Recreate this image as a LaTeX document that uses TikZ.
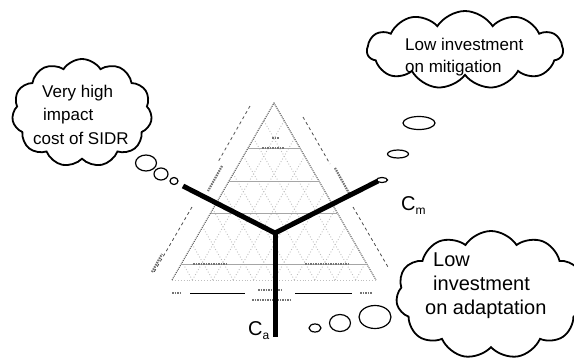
\documentclass[tikz,border=0pt]{standalone}
\usepackage{fontspec}
\setmainfont{Liberation Sans}
\usetikzlibrary{shapes.symbols,shapes.geometric,arrows.meta,positioning}

\begin{document}
\begin{tikzpicture}[x=1pt, y=-1pt,
      thought/.style={cloud, cloud puffs=11, cloud puff arc=115, draw,
                      line width=1.8pt, inner sep=0pt},
      bubble/.style={ellipse, draw, line width=1.2pt, inner sep=0pt},
      txt/.style={font=\fontsize{17}{23.5}\selectfont, align=left,
                  inner sep=0pt, anchor=north west},
      txtB/.style={font=\fontsize{20}{24}\selectfont, align=left,
                   inner sep=0pt, anchor=north west},
      lbl/.style={font=\fontsize{20}{20}\selectfont, inner sep=0pt, anchor=base west},
      arm/.style={line width=5pt, black},
      gridline/.style={gray!50, dotted, line width=0.9pt},
      level/.style={gray!70, line width=1pt},
      axisline/.style={black!70, dashed, line width=0.8pt},
      smudge/.style={black!55, line width=2.2pt, dash pattern=on 1.5pt off 1pt},
    ]
    \useasboundingbox (0,0) rectangle (574,362);

    % ternary chart in the background
    \coordinate (apex) at (274,103);
    \coordinate (baseL) at (172,280);
    \coordinate (baseR) at (376,280);
    \begin{scope}
      \clip (apex) -- (baseL) -- (baseR) -- cycle;
      \foreach \i in {1,...,9} {
        \draw[gridline] ({172+20.4*\i},280) -- ++(102,-177);
        \draw[gridline] ({172+20.4*\i},280) -- ++(-102,-177);
      }
    \end{scope}
    \draw[black!70, densely dotted, line width=1pt] (baseL) -- (apex) -- (baseR);
    \draw[gridline] (baseL) -- (baseR);
    \foreach \y in {148,181,213,264}
      \draw[level] ({274-(\y-103)/1.735},\y) -- ({274+(\y-103)/1.735},\y);

    \draw[axisline] (250,106) -- (218,162);
    \draw[axisline] (192,207) -- (153,274);
    \draw[axisline] (303,117) -- (330,164);
    \draw[axisline] (353,207) -- (388,267);
    \draw[black, line width=0.9pt] (190,293) -- (245,293);
    \draw[black, line width=0.9pt] (295,293) -- (352,293);

    % small print of the chart
    \draw[smudge] (262,148) -- (284,148);
    \draw[smudge] (272,138) -- (279,138);
    \draw[smudge] (193,264) -- (228,264);
    \draw[smudge] (305,264) -- (350,264);
    \draw[smudge] (222,166) -- (208,191);
    \draw[smudge] (152,272) -- (162,254);
    \draw[smudge] (335,168) -- (350,195);
    \draw[smudge] (258,290) -- (282,290);
    \draw[smudge] (252,300) -- (290,300);
    \draw[smudge] (172,293) -- (182,293);
    \draw[smudge] (360,293) -- (372,293);

    % cost axes
    \coordinate (hub)  at (275,233);
    \coordinate (endL) at (183,186);
    \coordinate (endR) at (378,181);
    \coordinate (endB) at (275,337);
    \draw[arm, line join=miter] (endL) -- (hub) -- (endR);
    \draw[arm] (hub) -- (endB);

    \node[lbl] (cm) at (401,210) {C\raisebox{-4pt}{\fontsize{12}{12}\selectfont m}};
    \node[lbl] (ca) at (248,335) {C\raisebox{-4pt}{\fontsize{12}{12}\selectfont a}};

    % thought clouds
    \node[thought, minimum width=140pt, minimum height=108pt] (cloudL) at (82,113) {};
    \node[txt] (textL) at (33,84.5)
      {\hspace*{9pt}Very high\\\hspace*{10pt}impact\\cost of SIDR};
    \node[bubble, minimum width=21pt, minimum height=16pt] (bL1) at (146,163) {};
    \node[bubble, minimum width=14pt, minimum height=12pt] (bL2) at (161,174) {};
    \node[bubble, minimum width=8pt,  minimum height=7pt]  (bL3) at (174,181) {};

    \node[thought, minimum width=196pt, minimum height=78pt] (cloudM) at (465,50) {};
    \node[txt, font=\fontsize{17}{22}\selectfont] (textM) at (405,37.5)
      {Low investment\\on mitigation};
    \node[bubble, minimum width=11pt, minimum height=5pt]  (bM1) at (382,180) {};
    \node[bubble, minimum width=21pt, minimum height=8pt]  (bM2) at (398,154) {};
    \node[bubble, minimum width=32pt, minimum height=13pt] (bM3) at (419,123) {};

    \node[thought, minimum width=190pt, minimum height=128pt] (cloudA) at (491,295) {};
    \node[txtB] (textA) at (425,252.7)
      {\hspace*{8pt}Low\\\hspace*{8pt}investment\\on adaptation};
    \node[bubble, minimum width=12pt, minimum height=8pt]  (bA1) at (315,328) {};
    \node[bubble, minimum width=21pt, minimum height=17pt] (bA2) at (340,323) {};
    \node[bubble, minimum width=32pt, minimum height=23pt] (bA3) at (375,317) {};
  \end{tikzpicture}
\end{document}
